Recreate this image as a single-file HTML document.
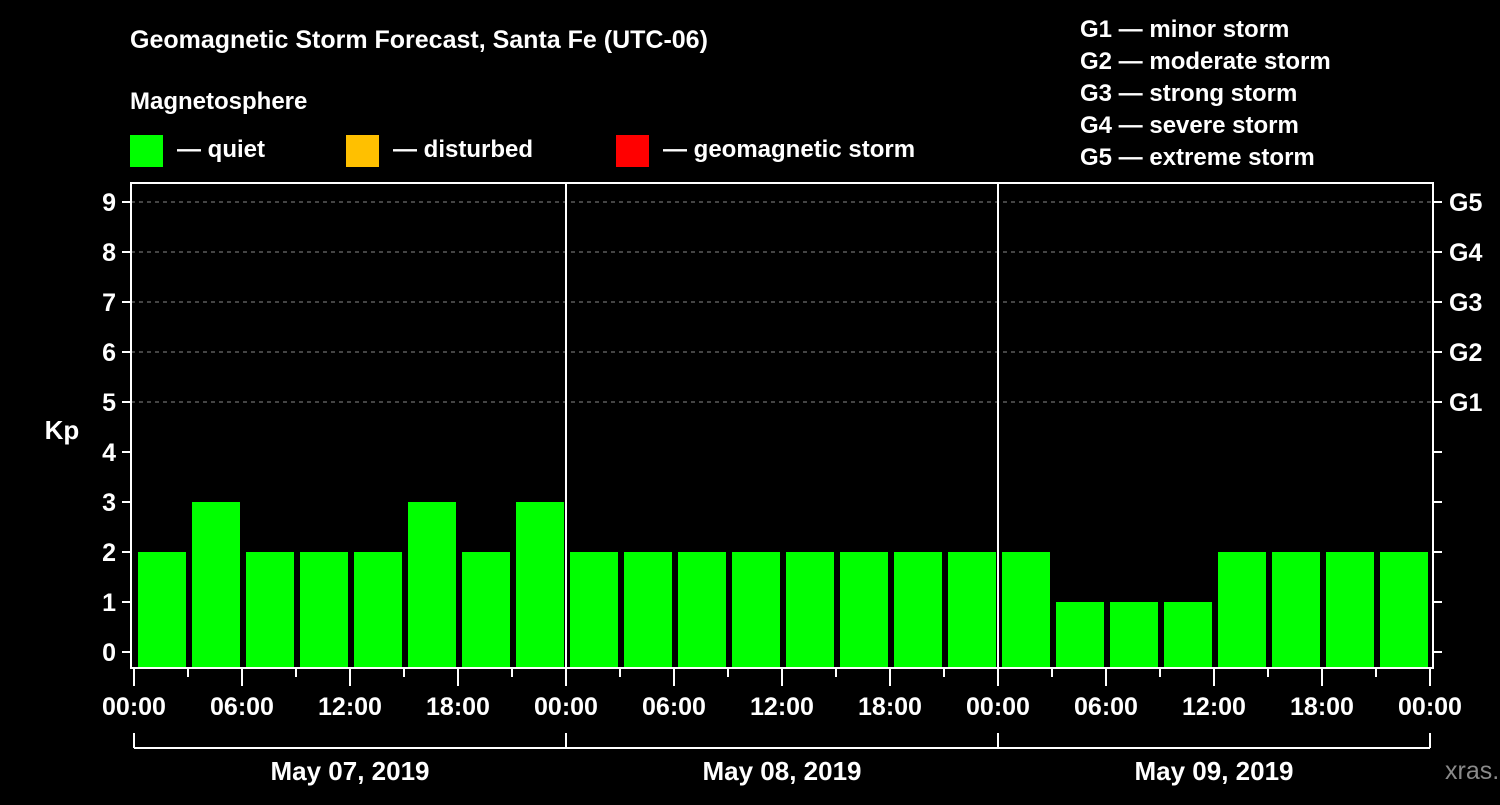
<!DOCTYPE html>
<html><head><meta charset="utf-8"><style>
body{margin:0;background:#000;}
svg text{font-family:"Liberation Sans",Arial,sans-serif;font-weight:bold;fill:#fff;}
</style></head><body>
<svg width="1500" height="800" viewBox="0 0 1500 800">
<rect x="0" y="0" width="1500" height="800" fill="#000"/>
<text x="130" y="48" font-size="25">Geomagnetic Storm Forecast, Santa Fe (UTC-06)</text>
<text x="130" y="109" font-size="24">Magnetosphere</text>
<g><rect x="130" y="135" width="33" height="32" fill="#00ff00"/><text x="177" y="157" font-size="24">— quiet</text></g>
<g><rect x="346" y="135" width="33" height="32" fill="#ffc000"/><text x="393" y="157" font-size="24">— disturbed</text></g>
<g><rect x="616" y="135" width="33" height="32" fill="#ff0000"/><text x="663" y="157" font-size="24">— geomagnetic storm</text></g>
<g font-size="24">
<text x="1080" y="37">G1 — minor storm</text>
<text x="1080" y="69">G2 — moderate storm</text>
<text x="1080" y="101">G3 — strong storm</text>
<text x="1080" y="133">G4 — severe storm</text>
<text x="1080" y="165">G5 — extreme storm</text>
</g>
<g id="grid"></g>
<g id="bars"></g>
<g id="axes"></g>
<text x="62" y="439" font-size="26" text-anchor="middle">Kp</text>
<text x="1445" y="779" font-size="25" fill="#888" style="fill:#8a8a8a;font-weight:normal">xras.ru</text>
</svg>
<script>
const kpValues=[2,3,2,2,2,3,2,3, 2,2,2,2,2,2,2,2, 2,1,1,1,2,2,2,2];
const yTicks=[0,1,2,3,4,5,6,7,8,9];
const gLabels=["G1","G2","G3","G4","G5"];
const xTickLabels=["00:00","06:00","12:00","18:00","00:00","06:00","12:00","18:00","00:00","06:00","12:00","18:00","00:00"];
const dayLabels=["May 07, 2019","May 08, 2019","May 09, 2019"];
const NS="http://www.w3.org/2000/svg";
const x0=134,x1=1430,pTop=183,pBot=668,pL=131,pR=1433;
const hourW=(x1-x0)/72;
const xs=h=>x0+h*hourW;
const ys=v=>652-v*50;
function mk(tag,attrs,parent){const e=document.createElementNS(NS,tag);for(const k in attrs)e.setAttribute(k,attrs[k]);parent.appendChild(e);return e;}
const grid=document.getElementById('grid'),bars=document.getElementById('bars'),axes=document.getElementById('axes');
for(let v=5;v<=9;v++){const l=mk('line',{x1:pL,x2:pR,y1:ys(v),y2:ys(v),stroke:'#888','stroke-dasharray':'4,4','stroke-width':1},grid);

}
kpValues.forEach((v,i)=>{const c=v>=5?'#ff0000':(v>=4?'#ffc000':'#00ff00');
const r=mk('rect',{x:xs(i*3)+4,y:ys(v),width:hourW*3-6,height:pBot-1-ys(v),fill:c},bars);

});
// frame
const fr=mk('path',{d:`M${pL},${pTop} H${pR} V${pBot} H${pL} Z`,fill:'none',stroke:'#fff','stroke-width':2},axes);


[24,48].forEach(h=>{const l=mk('line',{x1:xs(h),x2:xs(h),y1:pTop,y2:pBot,stroke:'#fff','stroke-width':2},axes);

});
yTicks.forEach(v=>{mk('line',{x1:122,x2:pL,y1:ys(v),y2:ys(v),stroke:'#fff','stroke-width':2},axes);
mk('line',{x1:pR,x2:1442,y1:ys(v),y2:ys(v),stroke:'#fff','stroke-width':2},axes);
const t=mk('text',{x:116,y:ys(v)+9,'font-size':25,'text-anchor':'end'},axes);t.textContent=v;

});
gLabels.forEach((g,i)=>{const t=mk('text',{x:1449,y:ys(5+i)+9,'font-size':25},axes);t.textContent=g;

});
for(let h=0;h<=72;h+=3){const major=h%6===0;mk('line',{x1:xs(h),x2:xs(h),y1:pBot,y2:pBot+(major?18:9),stroke:'#fff','stroke-width':2},axes);}
xTickLabels.forEach((s,i)=>{const t=mk('text',{x:xs(i*6),y:715,'font-size':25,'text-anchor':'middle'},axes);t.textContent=s;

});
mk('line',{x1:x0,x2:x1,y1:748,y2:748,stroke:'#fff','stroke-width':2},axes);
for(let d=0;d<=3;d++)mk('line',{x1:xs(d*24),x2:xs(d*24),y1:733,y2:748,stroke:'#fff','stroke-width':2},axes);
dayLabels.forEach((s,i)=>{const t=mk('text',{x:xs(i*24+12),y:780,'font-size':26,'text-anchor':'middle'},axes);t.textContent=s;

});
</script>
</body></html>
